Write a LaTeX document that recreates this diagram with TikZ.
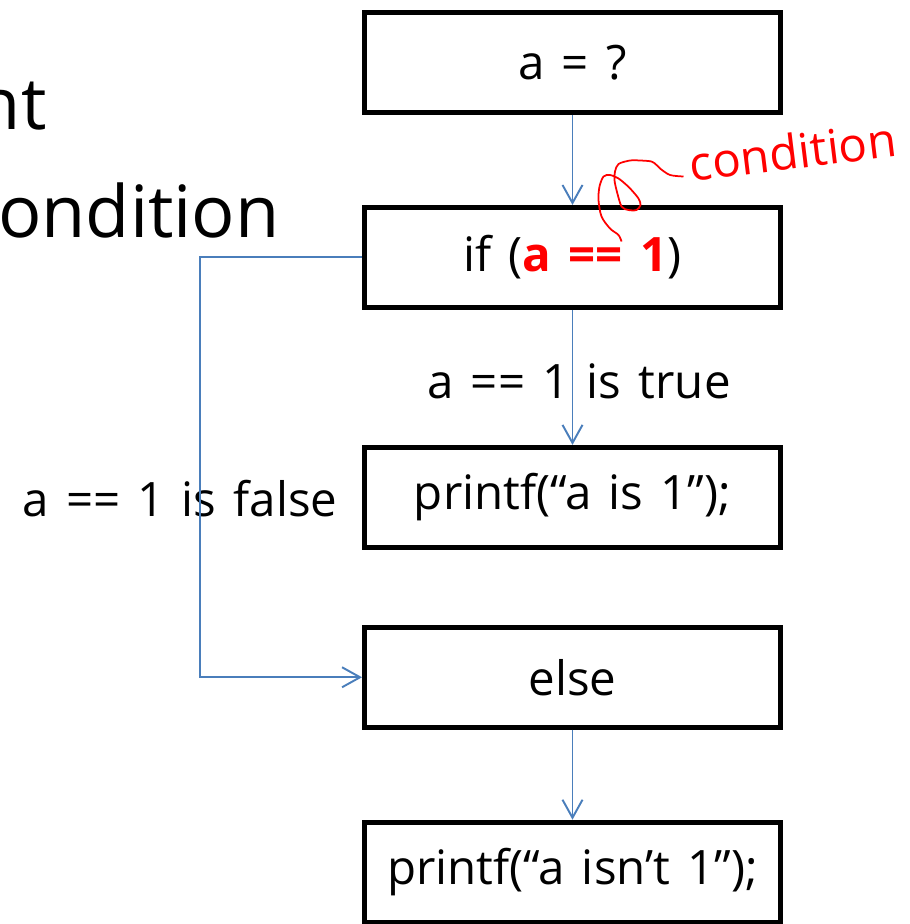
\documentclass[tikz,border=0pt]{standalone}
\usepackage{fontspec}
\setmainfont{Open Sans}[WordSpace=1.4]
\usetikzlibrary{arrows.meta,positioning}
\definecolor{FlowBlue}{RGB}{74,126,187}
\definecolor{NoteRed}{RGB}{255,0,0}

\begin{document}
\begin{tikzpicture}[
  node distance=18mm,
  box/.style={draw=black, line width=2.8pt, minimum width=83.2mm, minimum height=20mm, inner sep=0pt, font=\fontsize{27}{32}\selectfont},
  lbl/.style={font=\fontsize{27}{32}\selectfont, anchor=base, inner sep=0pt},
  big/.style={font=\fontsize{41}{48}\selectfont, anchor=base east, inner sep=0pt},
  line/.style={-{Straight Barb[length=3.6mm, width=4mm]}, line width=1.1pt, draw=FlowBlue}
]
\useasboundingbox (0,0) rectangle (18.18,-18.48);

\node[big] (titleend) at (0.94,-2.6) {nt};
\node[big] (condword) at (5.6,-4.74) {ondition};

\node[box] (start) at (11.45,-1.25) {a = ?};
\node[box, below=of start] (cond) {if ({\color{NoteRed}\bfseries a == 1})};
\node[box, below=27mm of cond] (then) {printf(“a is 1”);};
\node[box, below=15mm of then] (other) {else};
\node[box, below=of other] (last) {printf(“a isn’t 1”);};

\node[lbl] (truelbl) at (11.58,-7.96) {a == 1 is true};
\node[lbl] (falselbl) at (3.6,-10.33) {a == 1 is false};

\draw[line] (start) -- (cond);
\draw[line] (cond) -- (then);
\draw[line] (cond.west) -- ++(-3.25,0) |- (other.west);
\draw[line] (other) -- (last);

% hand-drawn note
\node[lbl, anchor=base west, text=NoteRed, rotate=7] (note) at (13.83,-3.63) {condition};
\draw[NoteRed, line width=1pt, line join=round] plot[smooth] coordinates {
  (13.67,-3.53) (13.40,-3.50) (13.20,-3.37) (13.13,-3.30) (13.03,-3.23)
  (12.80,-3.21) (12.60,-3.21) (12.37,-3.28) (12.30,-3.43) (12.29,-3.60)
  (12.33,-3.80) (12.43,-4.13) (12.57,-4.20) (12.73,-4.20) (12.81,-4.10)
  (12.77,-3.97) (12.63,-3.80) (12.53,-3.70) (12.37,-3.57) (12.20,-3.50)
  (12.07,-3.53) (11.99,-3.73) (11.97,-4.00) (12.03,-4.33) (12.20,-4.57)
  (12.37,-4.70) (12.43,-4.83)};
\end{tikzpicture}
\end{document}
